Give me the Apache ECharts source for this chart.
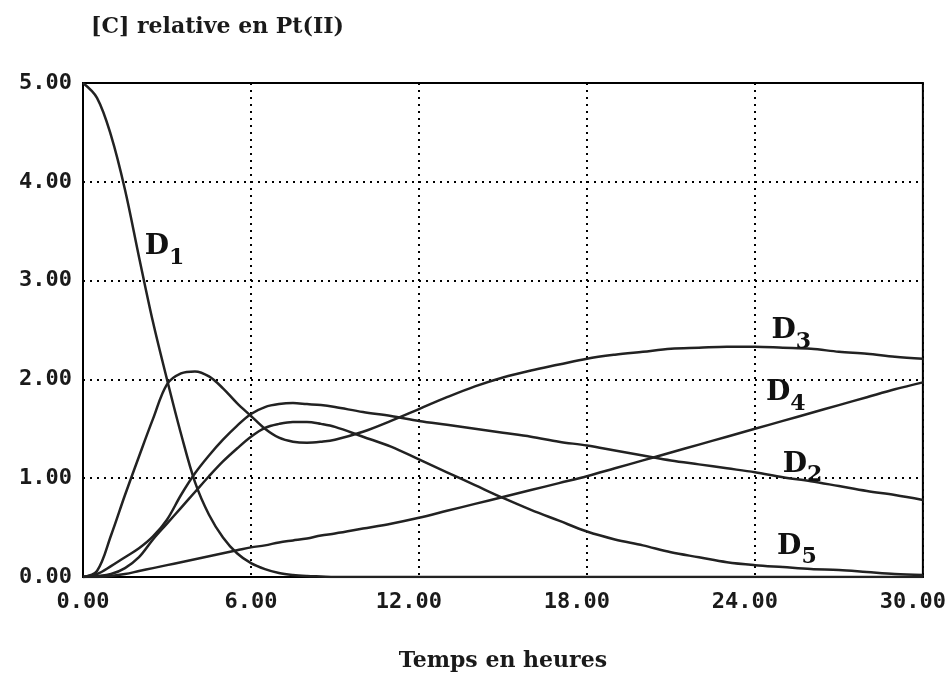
<!DOCTYPE html>
<html>
<head>
<meta charset="utf-8">
<script src="https://cdn.jsdelivr.net/npm/echarts@6/dist/echarts.min.js"></script>
<style>
  html, body { margin: 0; padding: 0; background: #fff; }
  #chart { width: 949px; height: 678px; }
</style>
</head>
<body>
<div id="chart"></div>
<script>
// time (hours)
const times = [0,0.5,1,1.5,2,2.5,3,3.5,4,4.5,5,5.5,6,6.5,7,7.5,8,8.5,9,10,11,12,13,14,15,16,17,18,19,20,21,22,23,24,25,26,27,28,29,30];
// relative concentrations
const d1 = [5,4.85,4.47,3.92,3.24,2.58,2.0,1.45,0.96,0.63,0.40,0.24,0.14,0.08,0.04,0.02,0.01,0.005,0,0,0,0,0,0,0,0,0,0,0,0,0,0,0,0,0,0,0,0,0,0];
const d2 = [0,0.03,0.11,0.20,0.29,0.41,0.58,0.83,1.05,1.23,1.39,1.53,1.65,1.72,1.75,1.76,1.75,1.74,1.72,1.67,1.63,1.58,1.54,1.50,1.46,1.42,1.37,1.33,1.28,1.23,1.18,1.14,1.10,1.06,1.01,0.97,0.92,0.87,0.83,0.78];
const d3 = [0,0.06,0.42,0.83,1.22,1.60,1.95,2.06,2.08,2.03,1.91,1.76,1.63,1.50,1.41,1.37,1.36,1.37,1.39,1.47,1.58,1.70,1.82,1.93,2.02,2.09,2.15,2.21,2.25,2.28,2.31,2.32,2.33,2.33,2.32,2.31,2.28,2.26,2.23,2.21];
const d4 = [0,0,0.01,0.03,0.06,0.09,0.12,0.15,0.18,0.21,0.24,0.27,0.30,0.32,0.35,0.37,0.39,0.42,0.44,0.49,0.54,0.60,0.67,0.74,0.81,0.88,0.95,1.02,1.10,1.18,1.26,1.34,1.42,1.50,1.58,1.66,1.74,1.82,1.90,1.97];
const d5 = [0,0.01,0.03,0.09,0.20,0.38,0.54,0.70,0.86,1.02,1.17,1.30,1.42,1.51,1.55,1.57,1.57,1.55,1.52,1.42,1.32,1.19,1.06,0.93,0.80,0.68,0.57,0.46,0.38,0.32,0.25,0.20,0.15,0.12,0.10,0.08,0.07,0.05,0.03,0.02];
// curve labels: subscript and anchor (data units)
const labelSubs = ['1','3','4','2','5'];
const labelX = [2.91, 25.3, 25.1, 25.7, 25.5];
const labelY = [3.30, 2.45, 1.82, 1.10, 0.27];
// axis texts
const titleText = '[C] relative en Pt(II)';
const xTitle = 'Temps en heures';

const ink = '#1a1a1a';
const pair = arr => times.map((t, i) => [t, arr[i]]);
const lineSeries = (name, arr) => ({
  name, type: 'line', data: pair(arr), smooth: 0.35, showSymbol: false, symbol: 'none',
  lineStyle: { color: '#222', width: 2.5 }, z: 3, silent: true
});

const chart = echarts.init(document.getElementById('chart'), null, { renderer: 'canvas' });
chart.setOption({
  animation: false,
  backgroundColor: '#fff',
  title: {
    text: titleText, left: 86, top: 11,
    textStyle: { fontFamily: 'DejaVu Serif', fontWeight: 'bold', fontSize: 22, color: ink }
  },
  grid: { left: 83, right: 26, top: 83, bottom: 101, show: true, borderColor: '#000', borderWidth: 2, backgroundColor: 'transparent' },
  xAxis: {
    type: 'value', min: 0, max: 30, interval: 6,
    name: xTitle, nameLocation: 'middle', nameGap: 73,
    nameTextStyle: { fontFamily: 'DejaVu Serif', fontWeight: 'bold', fontSize: 22, color: ink },
    axisLine: { show: true, lineStyle: { color: '#000', width: 2 } },
    axisTick: { show: false },
    axisLabel: {
      margin: 14, fontFamily: 'DejaVu Sans Mono', fontWeight: 'bold', fontSize: 22, color: ink,
      formatter: v => { const s = v.toFixed(2); return s.length > 4 ? '{w|' + s + '}' : s; },
      rich: { w: { fontFamily: 'DejaVu Sans Mono', fontWeight: 'bold', fontSize: 22, color: ink, padding: [0, 20, 0, 0] } }
    },
    splitLine: { show: true, lineStyle: { color: '#000', width: 2, type: [2, 5] } }
  },
  yAxis: {
    type: 'value', min: 0, max: 5, interval: 1,
    axisLine: { show: true, lineStyle: { color: '#000', width: 2 } },
    axisTick: { show: false },
    axisLabel: {
      margin: 11, fontFamily: 'DejaVu Sans Mono', fontWeight: 'bold', fontSize: 22, color: ink,
      formatter: v => v.toFixed(2)
    },
    splitLine: { show: true, lineStyle: { color: '#000', width: 2, type: [2, 5] } }
  },
  series: [
    lineSeries('D1', d1),
    lineSeries('D2', d2),
    lineSeries('D3', d3),
    lineSeries('D4', d4),
    lineSeries('D5', d5),
    {
      name: 'labels', type: 'scatter', symbol: 'circle', symbolSize: 1,
      itemStyle: { color: 'rgba(0,0,0,0)' }, z: 5, silent: true,
      data: labelSubs.map((s, i) => ({ value: [labelX[i], labelY[i]], sub: s })),
      label: {
        show: true, position: 'inside', color: '#000', opacity: 1, textBorderWidth: 0,
        formatter: p => '{d|D}{s|' + p.data.sub + '}',
        rich: {
          d: { fontFamily: 'DejaVu Serif', fontWeight: 'bold', fontSize: 28, color: '#111', opacity: 1, textBorderWidth: 0, lineHeight: 36, verticalAlign: 'top' },
          s: { fontFamily: 'DejaVu Serif', fontWeight: 'bold', fontSize: 22, color: '#111', opacity: 1, textBorderWidth: 0, lineHeight: 36, verticalAlign: 'bottom' }
        }
      }
    }
  ]
});
</script>
</body>
</html>
